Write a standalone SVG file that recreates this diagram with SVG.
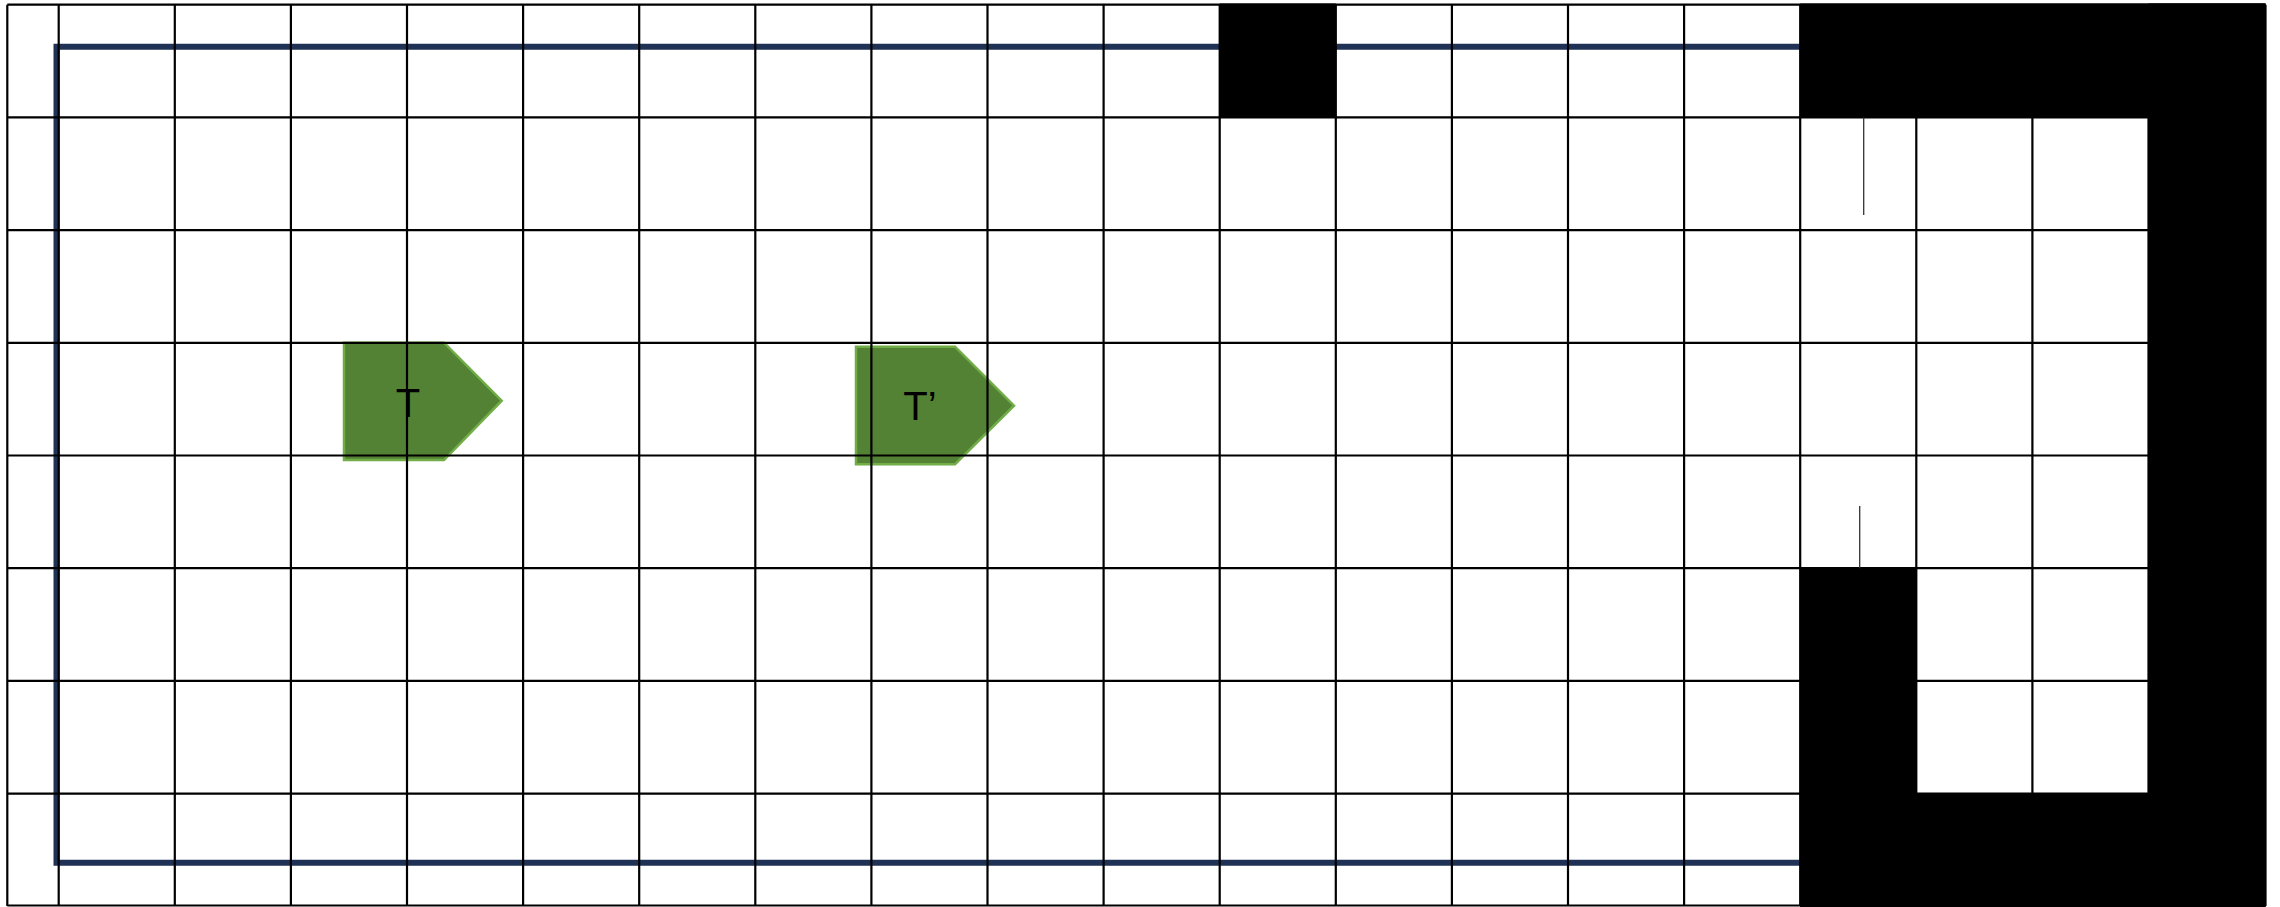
<svg xmlns="http://www.w3.org/2000/svg" width="2280" height="907" viewBox="0 0 2280 907">
<style>
.grid{stroke:#000;stroke-width:2.2;fill:none}
.wall{fill:#000}
.thin{stroke:#333;stroke-width:1.3}
.route{stroke:#1F3256;stroke-width:6;fill:none}
.agent{fill:#548235;stroke:#70AD47;stroke-width:2.5}
.lbl{font-family:"Liberation Sans",Arial,sans-serif;font-size:40px;fill:#000;text-anchor:middle}
</style>
<rect width="2280" height="907" fill="#fff"/>
<g id="connectors">
<path class="route" d="M1800 46.7 H56.5 V862.7 H1800"/>
</g>
<g id="agent-T">
<polygon class="agent" points="344,342.7 444,342.7 501.7,400.7 444,460 344,460"/>
<text class="lbl" x="408" y="417">T</text>
</g>
<g id="agent-T2">
<polygon class="agent" points="856,346.7 955,346.7 1014,405.7 955,464.3 856,464.3"/>
<text class="lbl" x="920" y="420">T’</text>
</g>
<g id="grid">
<path class="grid" d="M7.3 4.7V906 M58.7 4.7V906 M174.8 4.7V906 M290.9 4.7V906 M407 4.7V906 M523.1 4.7V906 M639.2 4.7V906 M755.3 4.7V906 M871.4 4.7V906 M987.5 4.7V906 M1103.6 4.7V906 M1219.7 4.7V906 M1335.8 4.7V906 M1451.9 4.7V906 M1568 4.7V906 M1684.1 4.7V906 M1800.2 4.7V906 M1916.3 4.7V906 M2032.4 4.7V906 M2148.5 4.7V906 M2265.5 4.7V906
M7.3 4.7H2265.5 M7.3 117.4H2265.5 M7.3 230.1H2265.5 M7.3 342.8H2265.5 M7.3 455.5H2265.5 M7.3 568.2H2265.5 M7.3 680.9H2265.5 M7.3 793.6H2265.5 M7.3 905.5H2265.5"/>
</g>
<g id="walls">
<rect class="wall" x="1219.7" y="3.5" width="116.1" height="113.9"/>
<rect class="wall" x="1800.2" y="3.5" width="465.3" height="113.9"/>
<rect class="wall" x="2148.5" y="3.5" width="117" height="903.5"/>
<rect class="wall" x="1800.2" y="793.6" width="465.3" height="113.4"/>
<rect class="wall" x="1800.2" y="568.2" width="116.1" height="338.8"/>
</g>
<g id="marks">
<line class="thin" x1="1863.7" y1="117.4" x2="1863.7" y2="215"/>
<line class="thin" x1="1859.7" y1="506" x2="1859.7" y2="568.2"/>
</g>
</svg>
